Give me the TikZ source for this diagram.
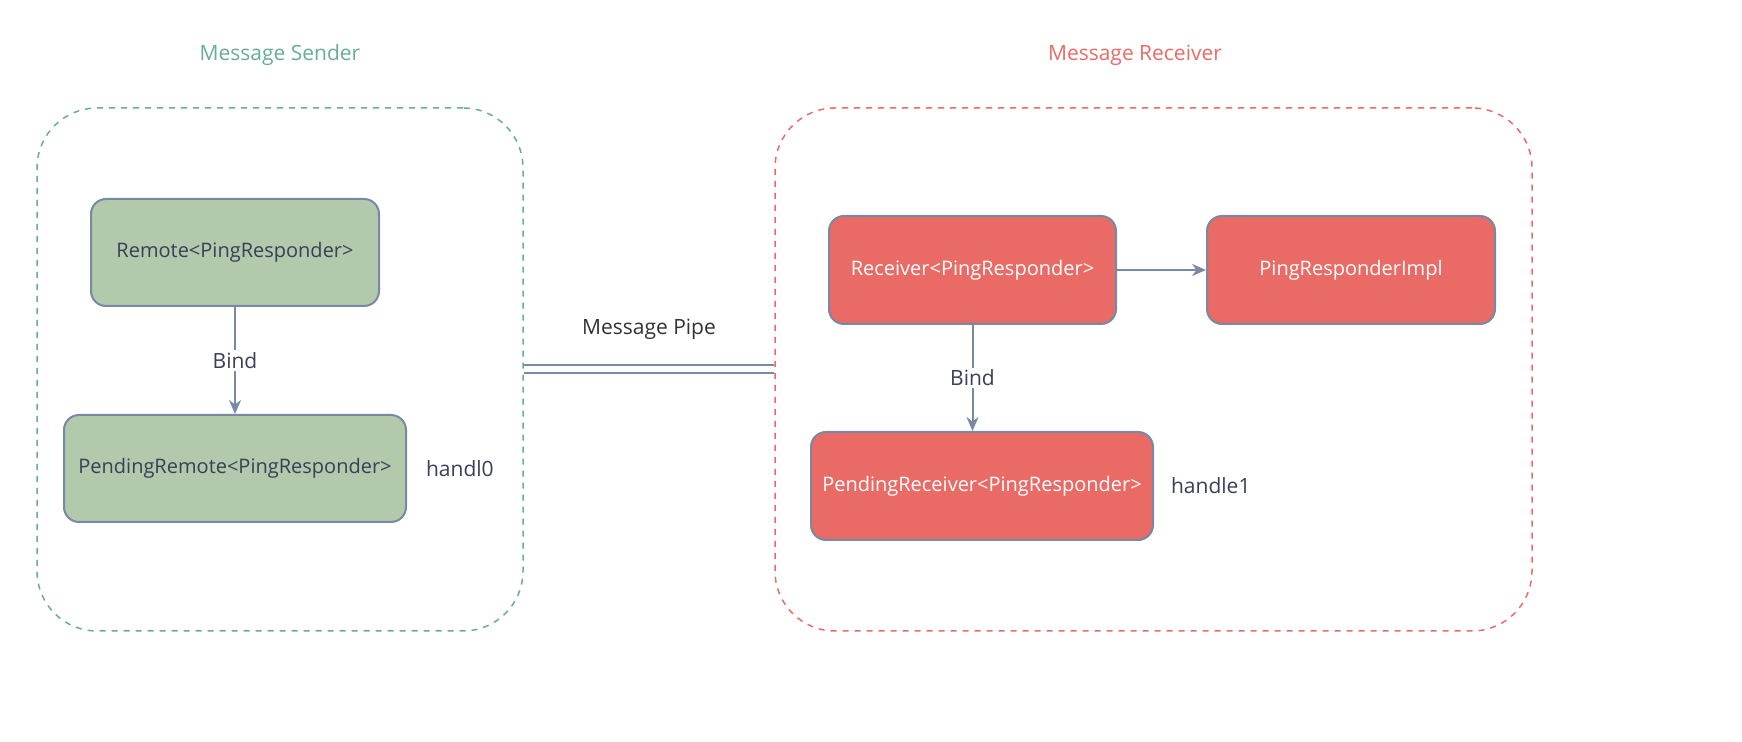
\documentclass[tikz,border=0pt]{standalone}
\usepackage{fontspec}
\setmainfont{Open Sans}
\usetikzlibrary{positioning,arrows.meta}
\definecolor{sendgreen}{HTML}{67AB9F}
\definecolor{recvred}{HTML}{EA6B66}
\definecolor{boxgreen}{HTML}{B2C9AB}
\definecolor{edgegray}{HTML}{788AA3}
\definecolor{inktext}{HTML}{3A3F58}

\begin{document}
\begin{tikzpicture}[x=0.5pt,y=-0.5pt,
         font=\fontsize{10.5}{13}\selectfont,
         group/.style = {draw,dashed,dash pattern=on 3pt off 3pt,line width=0.75pt,
                         rounded corners=30pt,minimum width=243pt,minimum height=261.5pt},
         title/.style = {font=\fontsize{10.5}{13}\selectfont},
         sendbox/.style = {draw=edgegray,line width=1pt,fill=boxgreen,text=inktext,
                           rounded corners=7.5pt,minimum height=53.5pt,
                           font=\fontsize{10}{12}\selectfont},
         recvbox/.style = {draw=edgegray,line width=1pt,fill=recvred,text=white,
                           rounded corners=7.5pt,minimum height=54pt,
                           font=\fontsize{10}{12}\selectfont},
         link/.style = {draw=edgegray,line width=1pt,-{Stealth[length=7pt,width=6pt]}},
         note/.style = {text=inktext}
]
   \useasboundingbox (0,0) rectangle (1742,742);

   % the two sides
   \node[group,draw=sendgreen] (sender) at (280,369.5) {};
   \node[group,draw=recvred,minimum width=378.5pt] (receiver) at (1153.5,369.5) {};
   \node[title,text=sendgreen] (sendtitle) at (280,55) {Message Sender};
   \node[title,text=recvred] (recvtitle) at (1135,55) {Message Receiver};

   % sender side
   \node[sendbox,minimum width=144pt] (remote) at (235,252.5) {Remote<PingResponder>};
   \node[sendbox,minimum width=171pt] (pendremote) at (235,468.5) {PendingRemote<PingResponder>};
   \node[note,right=6pt of pendremote] (handl0) {handl0};

   % receiver side
   \node[recvbox,minimum width=143.5pt] (recv) at (972.5,270) {Receiver<PingResponder>};
   \node[recvbox,minimum width=144pt,right=44.5pt of recv] (impl) {PingResponderImpl};
   \node[recvbox,minimum width=171pt] (pendrecv) at (982,486) {PendingReceiver<PingResponder>};
   \node[note,right=5pt of pendrecv] (handle1) {handle1};

   \draw[link] (remote) -- node[fill=white,text=inktext,inner sep=1pt] {Bind} (pendremote);
   \draw[link] (recv.south) -- node[fill=white,text=inktext,inner sep=1pt] {Bind} (recv.south |- pendrecv.north);
   \draw[link] (recv) -- (impl);

   % the pipe
   \draw[edgegray,line width=1pt,double=white,double distance=3pt] (sender.east) -- (receiver.west)
      node[midway,above=11pt,text=black!80] (pipe) {Message Pipe};
\end{tikzpicture}
\end{document}
